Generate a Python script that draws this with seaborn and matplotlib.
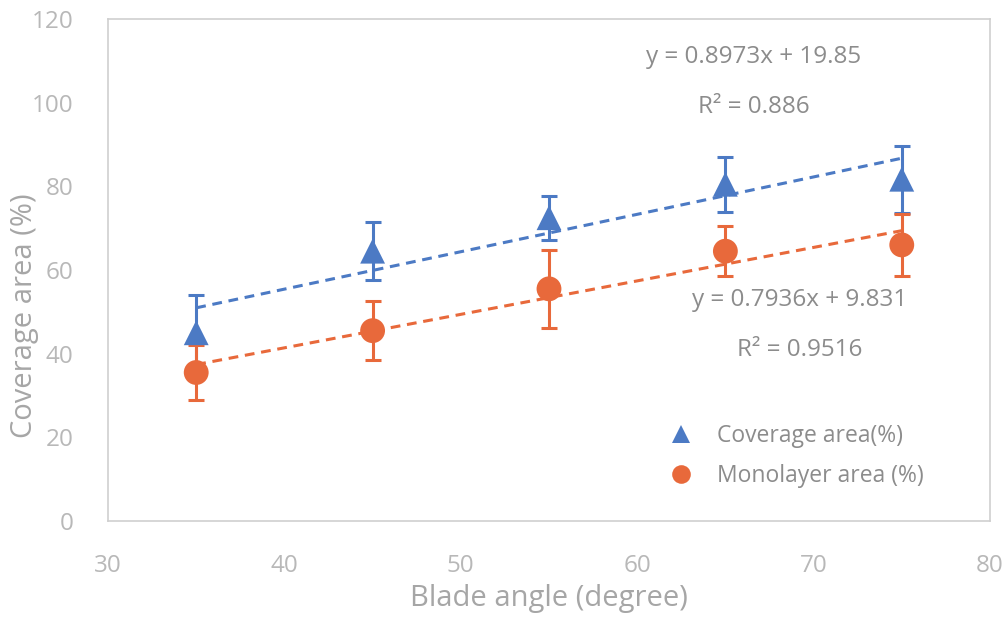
import numpy as np
import pandas as pd
import matplotlib
matplotlib.use("Agg")
import matplotlib.pyplot as plt
import seaborn as sns

# Data
blade_angle = [35, 45, 55, 65, 75]
coverage = [45.0, 64.5, 72.5, 80.5, 81.7]
coverage_err = [9.0, 7.0, 5.3, 6.6, 8.0]
monolayer = [35.5, 45.5, 55.5, 64.5, 66.0]
monolayer_err = [6.5, 7.0, 9.3, 6.0, 7.5]
series_names = ["Coverage area(%)", "Monolayer area (%)"]
eq_cov = ["y = 0.8973x + 19.85", "R² = 0.886"]
eq_mono = ["y = 0.7936x + 9.831", "R² = 0.9516"]

blue = "#4C7AC4"
orange = "#E8693B"
grey_text = "#8C8C8C"
tick_grey = "#B8B8B8"
label_grey = "#A6A6A6"

sns.set_theme(style="white")
plt.rcParams["font.family"] = ["Open Sans", "DejaVu Sans"]

df = pd.DataFrame({
    "angle": blade_angle * 2,
    "value": coverage + monolayer,
    "err": coverage_err + monolayer_err,
    "series": [series_names[0]] * 5 + [series_names[1]] * 5,
})

fig = plt.figure(figsize=(10.03, 6.23), dpi=100)
ax = fig.add_axes([0.1077, 0.1637, 0.8793, 0.8058])

# linear trendlines
for name, col in zip(series_names, [blue, orange]):
    sub = df[df["series"] == name]
    sns.regplot(data=sub, x="angle", y="value", scatter=False, ci=None, ax=ax,
                color=col, line_kws=dict(ls=(0, (3.2, 2.2)), lw=2.2))

# error bars
for name, col in zip(series_names, [blue, orange]):
    sub = df[df["series"] == name]
    ax.errorbar(sub["angle"], sub["value"], yerr=sub["err"], fmt="none",
                ecolor=col, elinewidth=2.2, capsize=6, capthick=2.2)

sns.scatterplot(data=df, x="angle", y="value", hue="series", style="series",
                palette={series_names[0]: blue, series_names[1]: orange},
                markers={series_names[0]: "^", series_names[1]: "o"},
                s=320, linewidth=0, ax=ax, zorder=5)

ax.set_xlim(30, 80)
ax.set_ylim(0, 120)
ax.set_xticks(range(30, 81, 10))
ax.set_yticks(range(0, 121, 20))
ax.tick_params(axis="both", direction="in", length=6, width=1, color="#BDBDBD",
               labelcolor=tick_grey, labelsize=17.5)
ax.tick_params(axis="x", pad=24)
ax.tick_params(axis="y", pad=25)
for sp in ax.spines.values():
    sp.set_color("#CFCFCF")
    sp.set_linewidth(1.2)

ax.set_xlabel("Blade angle (degree)", fontsize=21, color=label_grey)
ax.set_ylabel("Coverage area (%)", fontsize=21, color=label_grey)
ax.xaxis.set_label_coords(0.5, -0.125)
ax.yaxis.set_label_coords(-0.078, 0.41)

# regression equations
ax.text(66.6, 110.8, eq_cov[0], ha="center", va="center", fontsize=17.5, color=grey_text)
ax.text(66.6, 99.0, eq_cov[1], ha="center", va="center", fontsize=17.5, color=grey_text)
ax.text(69.2, 52.9, eq_mono[0], ha="center", va="center", fontsize=17.5, color=grey_text)
ax.text(69.2, 40.9, eq_mono[1], ha="center", va="center", fontsize=17.5, color=grey_text)

leg = ax.legend(loc="upper left", bbox_to_anchor=(0.6, 0.235), frameon=False,
                fontsize=16.5, markerscale=0.75, handletextpad=0.6, labelspacing=0.7)
for t in leg.get_texts():
    t.set_color(grey_text)
for h, c in zip(leg.legend_handles, ["#2F5C9E", "#E07040"]):
    h.set_color(c)

fig.savefig("out.png", dpi=100)
